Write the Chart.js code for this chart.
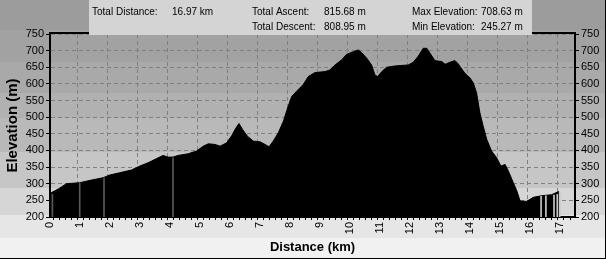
<!DOCTYPE html>
<html>
<head>
<meta charset="utf-8">
<script src="https://cdn.jsdelivr.net/npm/chart.js@4.4.0/dist/chart.umd.min.js"></script>
<style>
  html, body { margin: 0; padding: 0; background: #f0f0f0; }
  canvas { display: block; }
</style>
</head>
<body>
<canvas id="profile" width="606" height="259"></canvas>
<script>
// elevation profile
const distKm = [0, 0.06, 0.27, 0.43, 0.54, 0.99, 1.38, 1.77, 1.99, 2.32, 2.71, 2.99, 3.27, 3.54, 3.77, 3.93,
  4.1, 4.27, 4.6, 4.88, 5.11, 5.28, 5.5, 5.67, 5.89, 6.06, 6.2, 6.3, 6.42, 6.58, 6.78, 7.0, 7.17, 7.3, 7.44,
  7.61, 7.78, 7.94, 8.06, 8.22, 8.44, 8.61, 8.83, 9.17, 9.33, 9.5, 9.72, 9.89, 10.11, 10.28, 10.39, 10.56,
  10.72, 10.83, 10.92, 11.06, 11.22, 11.5, 11.94, 12.11, 12.28, 12.44, 12.56, 12.67, 12.83, 13.06, 13.17,
  13.33, 13.5, 13.61, 13.67, 13.83, 14.0, 14.11, 14.22, 14.33, 14.44, 14.56, 14.72, 14.89, 15.03, 15.17,
  15.28, 15.44, 15.56, 15.67, 15.89, 16.11, 16.39, 16.72, 16.94, 16.97];
const elevM = [272, 274, 284, 293, 300, 303, 311, 318, 326, 333, 341, 353, 363, 375, 385, 380,
  380, 385, 390, 398, 413, 420, 418, 413, 423, 445, 468, 481, 463, 443, 428, 426, 418, 411, 428,
  453, 488, 533, 563, 578, 598, 622, 634, 637, 642, 657, 672, 689, 697, 702, 694, 677,
  657, 627, 622, 637, 650, 654, 657, 665, 684, 707, 707, 692, 670, 667, 659,
  665, 670, 660, 652, 632, 618, 603, 573, 513, 473, 433, 398, 378, 353, 358,
  338, 304, 279, 248, 247, 259, 264, 267, 276, 276];

// waypoint markers
const markerKm = [0.08, 0.99, 1.8, 4.1, 16.37, 16.53, 16.8, 16.91, 16.99];
const markerElev = [268, 302, 317, 378, 262, 264, 266, 268, 274];

const statLabels = ["Total Distance:", "Total Ascent:", "Total Descent:", "Max Elevation:", "Min Elevation:"];
const statValues = ["16.97 km", "815.68 m", "808.95 m", "708.63 m", "245.27 m"];

const xMin = 0, xMax = 17.5, xLabelStep = 1;
const yMin = 200, yMax = 750, yLabelStep = 50;

const FONT = '"Liberation Sans", Arial, sans-serif';

function isWhole(v, step) {
  const r = v / step;
  return Math.abs(r - Math.round(r)) < 1e-6;
}

// narrow text, like the old bitmap font of the original
function narrowText(c, text, x, y) {
  c.save();
  c.translate(x, y);
  c.scale(0.91, 1);
  c.fillText(text, 0, 0);
  c.restore();
}

const bandPlugin = {
  id: 'bands',
  beforeDraw(chart) {
    const c = chart.ctx;
    const bands = [[0, '#9c9c9c'], [30, '#a2a2a2'], [62, '#a9a9a9'], [93, '#b1b1b1'], [118, '#b9b9b9'],
      [152, '#c6c6c6'], [188, '#d6d6d6'], [215, '#e6e6e6'], [238, '#f1f1f1']];
    c.save();
    bands.forEach((b, i) => {
      const y1 = i < bands.length - 1 ? bands[i + 1][0] : chart.height;
      c.fillStyle = b[1];
      c.fillRect(0, b[0], chart.width, y1 - b[0]);
    });
    c.restore();
  },
  afterDraw(chart) {
    const c = chart.ctx;
    const a = chart.chartArea;
    c.save();
    // top edge of the plot frame
    c.strokeStyle = '#000';
    c.lineWidth = 2;
    c.beginPath();
    c.moveTo(a.left - 1, a.top - 1);
    c.lineTo(a.right + 1, a.top - 1);
    c.stroke();

    // stats box
    c.fillStyle = '#d4d4d4';
    c.fillRect(89, 0, 443, 35);
    c.fillStyle = '#000';
    c.font = '11px ' + FONT;
    c.textBaseline = 'middle';
    const pos = [[92, 172, 12], [252, 324, 12], [252, 324, 27], [412, 481, 12], [412, 481, 27]];
    statLabels.forEach((t, i) => {
      narrowText(c, t, pos[i][0], pos[i][2]);
      narrowText(c, statValues[i], pos[i][1], pos[i][2]);
    });

    // outer frame
    c.fillStyle = '#000';
    c.fillRect(chart.width - 1, 0, 1, chart.height);
    c.fillRect(0, chart.height - 1, chart.width, 1);
    c.restore();
  }
};

const ctx = document.getElementById('profile').getContext('2d');

const myChart = new Chart(ctx, {
  type: 'line',
  data: {
    datasets: [
      {
        type: 'line',
        data: distKm.map((x, i) => ({ x: x, y: elevM[i] })),
        borderColor: '#000',
        backgroundColor: '#000',
        borderWidth: 1,
        fill: 'start',
        pointRadius: 0,
        tension: 0,
        yAxisID: 'y',
        order: 2
      },
      {
        type: 'bar',
        data: markerKm.map((x, i) => ({ x: x, y: [yMin, markerElev[i]] })),
        backgroundColor: ['#585858', '#585858', '#585858', '#585858', '#c8c8c8', '#c8c8c8', '#c8c8c8', '#c8c8c8', '#c8c8c8'],
        barThickness: 1,
        yAxisID: 'y',
        order: 1
      }
    ]
  },
  options: {
    responsive: false,
    animation: false,
    devicePixelRatio: 1,
    layout: { padding: { top: 34, left: 0, right: 0, bottom: 0 } },
    plugins: {
      legend: { display: false },
      tooltip: { enabled: false }
    },
    scales: {
      x: {
        type: 'linear',
        min: xMin,
        max: xMax,
        offset: false,
        afterFit: (s) => { s.height = 42; },
        ticks: {
          stepSize: 0.2,
          autoSkip: false,
          minRotation: 90,
          maxRotation: 90,
          padding: 2,
          color: '#000',
          font: { family: FONT, size: 11 },
          callback: (v) => isWhole(v, xLabelStep) ? String(Math.round(v)) : ''
        },
        grid: {
          color: (c) => (c.tick && isWhole(c.tick.value, xLabelStep)) ? '#808080' : 'rgba(0,0,0,0)',
          tickColor: '#000',
          tickLength: 3
        },
        border: { color: '#000', width: 2, dash: [4, 3] },
        title: {
          display: true,
          text: 'Distance (km)',
          color: '#000',
          font: { family: FONT, size: 13, weight: 'bold' },
          padding: { top: 0, bottom: 4 }
        }
      },
      y: {
        position: 'left',
        min: yMin,
        max: yMax,
        afterFit: (s) => { s.width = 50; },
        ticks: {
          stepSize: 25,
          padding: 2,
          color: '#000',
          font: { family: FONT, size: 11 },
          callback: (v) => isWhole(v, yLabelStep) ? String(v) : ''
        },
        grid: { color: '#808080', tickColor: '#000', tickLength: 4 },
        border: { color: '#000', width: 2, dash: [4, 3] },
        title: {
          display: true,
          text: 'Elevation (m)',
          color: '#000',
          font: { family: FONT, size: 15, weight: 'bold' },
          padding: { top: 4, bottom: 0 }
        }
      },
      yRight: {
        position: 'right',
        min: yMin,
        max: yMax,
        afterFit: (s) => { s.width = 31; },
        ticks: {
          stepSize: 25,
          padding: 2,
          color: '#000',
          font: { family: FONT, size: 11 },
          callback: (v) => isWhole(v, yLabelStep) ? String(v) : ''
        },
        grid: { drawOnChartArea: false, tickColor: '#000', tickLength: 4 },
        border: { color: '#000', width: 2 }
      }
    }
  },
  plugins: [bandPlugin]
});
</script>
</body>
</html>
